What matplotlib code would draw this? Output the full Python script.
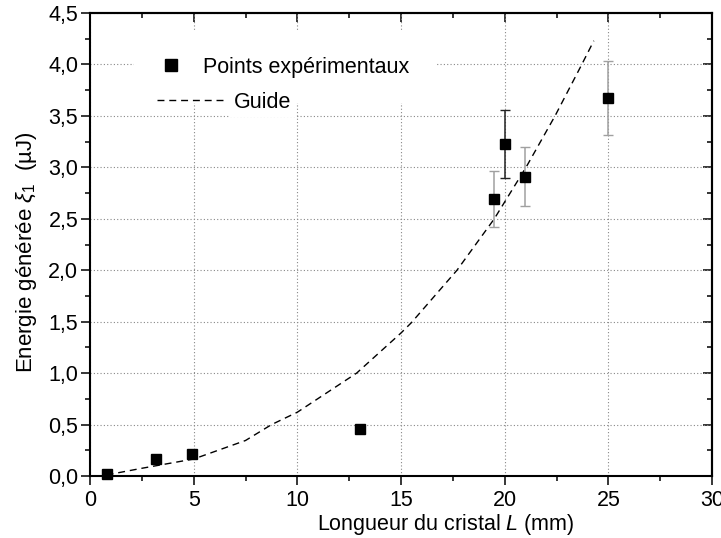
import matplotlib
matplotlib.use('Agg')
import matplotlib.pyplot as plt
from matplotlib.ticker import MultipleLocator, FuncFormatter
from matplotlib.lines import Line2D

plt.rcParams['font.family'] = ['Liberation Sans', 'DejaVu Sans']
plt.rcParams['mathtext.fontset'] = 'custom'
plt.rcParams['mathtext.rm'] = 'Liberation Sans'
plt.rcParams['mathtext.it'] = 'Liberation Sans:italic'

# experimental points
length_mm = [0.8, 3.2, 4.9, 13.0, 19.5, 20.0, 21.0, 25.0]
energy_uj = [0.02, 0.165, 0.21, 0.455, 2.69, 3.23, 2.91, 3.67]
energy_err = [0, 0, 0, 0, 0.27, 0.33, 0.29, 0.36]
err_colors = ['#a0a0a0', '#a0a0a0', '#a0a0a0', '#a0a0a0',
              '#a0a0a0', '#222222', '#a0a0a0', '#a0a0a0']

# guide curve
guide_x = [0.8, 2.5, 5.0, 7.5, 8.76, 10.0, 12.86, 15.0, 15.5, 17.7,
           19.5, 21.03, 22.43, 23.72, 24.3]
guide_y = [0.01, 0.075, 0.165, 0.345, 0.5, 0.62, 1.0, 1.39, 1.49, 2.0,
           2.5, 3.0, 3.5, 4.0, 4.23]

fig = plt.figure(figsize=(7.21, 5.38), dpi=100)
ax = fig.add_axes([90 / 721, 62 / 538, 622 / 721, 463 / 538])

ax.grid(True, which='major', linestyle=(0, (1, 2)), color='#888888', linewidth=0.8)
ax.set_axisbelow(True)

guide, = ax.plot(guide_x, guide_y, color='black', linewidth=1.0,
                 dashes=(5, 3.5), zorder=3)

for x, y, e, c in zip(length_mm, energy_uj, energy_err, err_colors):
    if e > 0:
        ax.errorbar(x, y, yerr=e, fmt='none', ecolor=c, elinewidth=1.1,
                    capsize=3.6, capthick=1.0, zorder=4)
pts, = ax.plot(length_mm, energy_uj, 's', color='black', markersize=7,
               linestyle='none', zorder=5, clip_on=False)

ax.set_xlim(0, 30)
ax.set_ylim(0, 4.5)
ax.xaxis.set_major_locator(MultipleLocator(5))
ax.xaxis.set_minor_locator(MultipleLocator(2.5))
ax.yaxis.set_major_locator(MultipleLocator(0.5))
ax.yaxis.set_minor_locator(MultipleLocator(0.25))
ax.yaxis.set_major_formatter(FuncFormatter(lambda v, p: f'{v:.1f}'.replace('.', ',')))
ax.xaxis.set_major_formatter(FuncFormatter(lambda v, p: f'{v:.0f}'))

ax.tick_params(which='major', direction='out', length=6.5, width=1.1,
               labelsize=15.5, pad=2)
ax.tick_params(which='minor', direction='out', length=3.5, width=1.1)
ax.tick_params(axis='x', which='major', pad=3.5)
for s in ax.spines.values():
    s.set_linewidth(1.5)

# mirrored ticks pointing inward on top and right
top = ax.secondary_xaxis('top')
top.xaxis.set_major_locator(MultipleLocator(5))
top.xaxis.set_minor_locator(MultipleLocator(2.5))
top.tick_params(which='major', direction='in', length=6.5, width=1.1, labeltop=False)
top.tick_params(which='minor', direction='in', length=3.5, width=1.1)
top.spines['top'].set_linewidth(1.5)
right = ax.secondary_yaxis('right')
right.yaxis.set_major_locator(MultipleLocator(0.5))
right.yaxis.set_minor_locator(MultipleLocator(0.25))
right.tick_params(which='major', direction='in', length=6.5, width=1.1, labelright=False)
right.tick_params(which='minor', direction='in', length=3.5, width=1.1)
right.spines['right'].set_linewidth(1.5)

ax.set_xlabel(r'Longueur du cristal $\mathit{L}$ (mm)', fontsize=15.5)
ax.set_ylabel(r'Energie générée $\xi_1$  (µJ)', fontsize=16)
ax.xaxis.set_label_coords((446 - 90) / 622, -0.077)
ax.yaxis.set_label_coords((39 - 90) / 622, (476 - 252) / 463)

# legend, two entries placed like the original
def px(x, y):
    return ((x - 90) / 622, (476 - y) / 463)

leg1 = ax.legend([Line2D([], [], marker='s', color='black', linestyle='none',
                         markersize=8.5)],
                 ['Points expérimentaux'], loc='center left',
                 bbox_to_anchor=px(134, 67), fontsize=15.5, handlelength=1.0,
                 handletextpad=1.0, borderpad=1.2, borderaxespad=0,
                 frameon=True, fancybox=False, framealpha=1,
                 facecolor='white', edgecolor='none')
ax.add_artist(leg1)
leg2 = ax.legend([Line2D([], [], color='black', linewidth=1.0, dashes=(5, 3.5))],
                 ['Guide'], loc='center left', bbox_to_anchor=px(157, 102),
                 fontsize=15.5, handlelength=3.2, handletextpad=0.36,
                 borderpad=0, borderaxespad=0, frameon=False)
leg2.get_texts()[0].set_bbox(dict(facecolor='white', edgecolor='none', pad=3))

fig.savefig('out.png', dpi=100)
